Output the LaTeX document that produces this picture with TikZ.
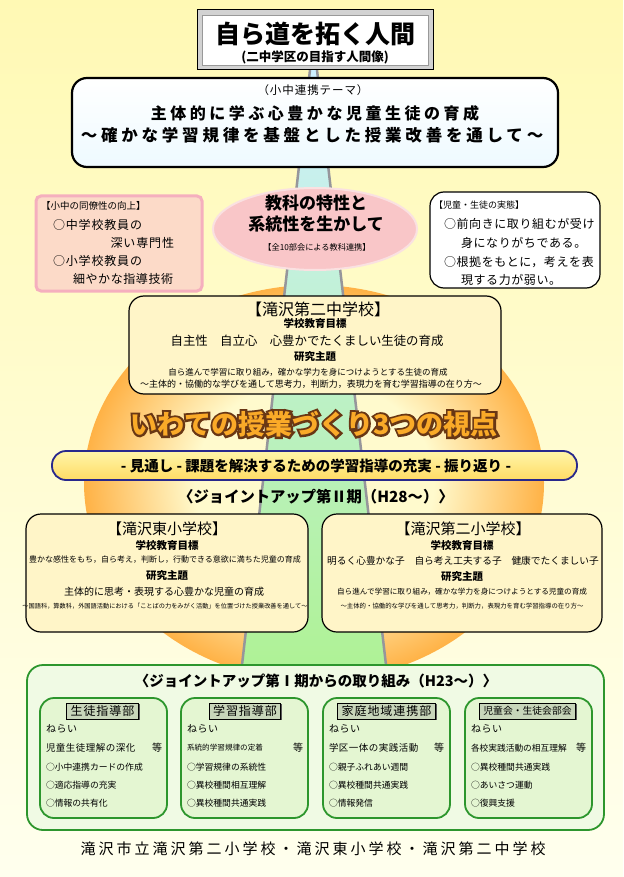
\documentclass[tikz,border=0pt]{standalone}
\usepackage{fontspec}
\usepackage{graphicx}
\usetikzlibrary{shapes.geometric,shadows}
\newfontfamily\jp{Noto Sans CJK JP}
\newcommand{\fsz}[1]{\fontsize{#1}{#1}\selectfont}
\newcommand{\trk}[1]{\addfontfeature{LetterSpace=#1}}

\definecolor{bgtop}{RGB}{255,249,180}
\definecolor{bgbot}{RGB}{255,255,238}
\definecolor{roadtop}{RGB}{205,240,255}
\definecolor{roadmid}{RGB}{205,245,225}
\definecolor{roadbot}{RGB}{175,242,150}
\definecolor{roadedge}{RGB}{150,150,155}
\definecolor{sunin}{RGB}{255,250,205}
\definecolor{sunout}{RGB}{255,178,70}
\definecolor{pinkfill}{RGB}{252,218,200}
\definecolor{pinkline}{RGB}{245,175,190}
\definecolor{ellfill}{RGB}{249,198,200}
\definecolor{ellline}{RGB}{250,225,225}
\definecolor{cream}{RGB}{255,245,200}
\definecolor{barblue}{RGB}{40,40,140}
\definecolor{baryeltop}{RGB}{255,245,170}
\definecolor{baryelbot}{RGB}{255,220,100}
\definecolor{grline}{RGB}{45,150,45}
\definecolor{grfill}{RGB}{240,250,228}
\definecolor{grinner}{RGB}{228,246,210}
\definecolor{tagfill}{RGB}{200,214,186}
\definecolor{popor}{RGB}{250,170,40}
\definecolor{popbr}{RGB}{105,55,20}
\definecolor{themefill}{RGB}{238,250,255}

\pgfdeclareradialshading{sunglow}{\pgfpoint{0bp}{0bp}}{color(0bp)=(sunin); color(13bp)=(sunin); color(25bp)=(sunout); color(50bp)=(sunout)}

\tikzset{
  txt/.style={inner sep=0pt, outer sep=0pt},
  board/.style={draw=black, line width=1.2pt, rounded corners=15pt, fill=cream, inner sep=0pt},
  roadline/.style={draw=roadedge, line width=2.5pt},
  unitbox/.style={draw=grline, line width=1.8pt, rounded corners=14pt, fill=grinner,
    minimum width=127pt, minimum height=120pt, inner sep=0pt},
  tagbox/.style={draw=black, line width=1pt, fill=tagfill, inner xsep=4pt, inner ysep=0pt,
    minimum height=16pt, drop shadow={shadow xshift=1.3pt, shadow yshift=-1.3pt, opacity=1, fill=black!65}},
}
\newcommand{\poptext}{いわての授業づくり3つの視点}

\begin{document}
\begin{tikzpicture}[x=1pt,y=-1pt]
    \useasboundingbox (0,0) rectangle (623,877);
    % Draw the background
    \shade[top color=bgtop, bottom color=bgbot] (0,0) rectangle (623,877);

    % Draw the sun behind the boards
    \shade[shading=sunglow] (314,483) ellipse [x radius=230pt, y radius=198pt];

    % Draw the road
    \coordinate (roadTL) at (310,70);
    \coordinate (roadTR) at (317,70);
    \coordinate (roadBL) at (242,665);
    \coordinate (roadBR) at (386,665);
    \shade[top color=roadtop, middle color=roadmid, bottom color=roadbot]
        (roadTL) -- (roadTR) -- (roadBR) -- (roadBL) -- cycle;
    \draw [roadline] (roadTL) -- (roadBL);
    \draw [roadline] (roadTR) -- (roadBR);

    % Title board
    \node [draw=black, line width=1pt, fill=gray!35, minimum width=236pt, minimum height=60pt,
        inner sep=0pt] (title) at (315,40) {};
    \node [draw=gray!80, line width=0.8pt, fill=white, minimum width=226pt, minimum height=50pt,
        inner sep=0pt] (titlein) at (title.center) {};
    \node [txt, font={\jp\fsz{25}\bfseries}] (titlemain) at (315,34) {自ら道を拓く人間};
    \node [txt, font={\jp\fsz{12.5}\bfseries}] (titlesub) at (315,57) {(二中学区の目指す人間像)};

    % Theme board
    \node [draw=black, line width=2.2pt, rounded corners=15pt, top color=white, bottom color=themefill,
        minimum width=486pt, minimum height=89pt, inner sep=0pt] (theme) at (315,122.5) {};
    \node [txt, font={\jp\fsz{11.5}\trk{8}}] (themelbl) at (313,90) {（小中連携テーマ）};
    \node [txt, font={\jp\fsz{16}\bfseries\trk{22}}] (themea) at (315,113) {主体的に学ぶ心豊かな児童生徒の育成};
    \node [txt, font={\jp\fsz{16.5}\bfseries\trk{23}}] (themeb) at (312,135) {～確かな学習規律を基盤とした授業改善を通して～};

    % Left note: colleagues
    \node [draw=pinkline, line width=3pt, rounded corners=5pt, fill=pinkfill,
        minimum width=166pt, minimum height=95pt, inner sep=0pt] (colleague) at (119,243.5) {};
    \node [txt, anchor=west, font={\jp\fsz{9.5}}] (colla) at (41,206) {【小中の同僚性の向上】};
    \node [txt, anchor=west, font={\jp\fsz{12}\trk{7}}] (collb) at (53,225) {○中学校教員の};
    \node [txt, anchor=east, font={\jp\fsz{12}\trk{7}}] (collc) at (174,243) {深い専門性};
    \node [txt, anchor=west, font={\jp\fsz{12}\trk{7}}] (colld) at (53,261) {○小学校教員の};
    \node [txt, anchor=west, font={\jp\fsz{12}\trk{5}}] (colle) at (73,279) {細やかな指導技術};

    % Centre ellipse: subjects
    \node [ellipse, draw=ellline, line width=2pt, fill=ellfill, minimum width=204pt,
        minimum height=82pt, inner sep=0pt] (subject) at (315,229) {};
    \node [txt, font={\jp\fsz{17}\bfseries}] (subja) at (316,203) {教科の特性と};
    \node [txt, font={\jp\fsz{17}\bfseries}] (subjb) at (316,224) {系統性を生かして};
    \node [txt, font={\jp\fsz{8.2}}] (subjc) at (317,247) {【全10部会による教科連携】};

    % Right note: pupils
    \node [draw=black, line width=1.2pt, rounded corners=14pt, fill=white,
        minimum width=170pt, minimum height=96pt, inner sep=0pt] (pupil) at (515,240) {};
    \node [txt, anchor=west, font={\jp\fsz{9}}] (pupa) at (434,205) {【児童・生徒の実態】};
    \node [txt, anchor=west, font={\jp\fsz{12}\trk{5}}] (pupb) at (444,224) {○前向きに取り組むが受け};
    \node [txt, anchor=west, font={\jp\fsz{12}\trk{5}}] (pupc) at (461,243) {身になりがちである。};
    \node [txt, anchor=west, font={\jp\fsz{12}\trk{5}}] (pupd) at (444,262) {○根拠をもとに，考えを表};
    \node [txt, anchor=west, font={\jp\fsz{12}\trk{5}}] (pupe) at (461,280) {現する力が弱い。};

    % Junior high school board
    \node [board, minimum width=372pt, minimum height=98pt] (jhs) at (315,345) {};
    \node [txt, font={\jp\fsz{16}}] (jhsname) at (318,309) {【滝沢第二中学校】};
    \node [txt, font={\jp\fsz{10.5}\bfseries}] (jhsgoal) at (315,324) {学校教育目標};
    \node [txt, font={\jp\fsz{12.4}}] (jhsgoaltx) at (307,341) {自主性　自立心　心豊かでたくましい生徒の育成};
    \node [txt, font={\jp\fsz{10.5}\bfseries}] (jhstheme) at (315,357) {研究主題};
    \node [txt, font={\jp\fsz{8.5}}] (jhsthemea) at (308,372) {自ら進んで学習に取り組み，確かな学力を身につけようとする生徒の育成};
    \node [txt, font={\jp\fsz{9}}] (jhsthemeb) at (311,384) {～主体的・協働的な学びを通して思考力，判断力，表現力を育む学習指導の在り方～};

    % Three viewpoints
    \node [txt, font={\jp\fsz{27}\bfseries}] (pop) at (314,424)
        {{\color{popbr}\rlap{\addfontfeature{FakeBold=16}\poptext}}\textcolor{popor}{\poptext}};

    \node [draw=barblue, line width=1.8pt, rounded corners=14pt, top color=baryeltop, bottom color=baryelbot,
        minimum width=525pt, minimum height=29pt, inner sep=0pt] (view) at (314.5,465.5) {};
    \node [txt, font={\jp\fsz{14.5}\bfseries}] (viewtx) at (316,466) {- 見通し - 課題を解決するための学習指導の充実 - 振り返り -};
    \node [txt, font={\jp\fsz{15.3}\bfseries}] (phase2) at (316,497) {〈ジョイントアップ第Ⅱ期（H28～）〉};

    % Elementary school boards
    \node [board, minimum width=282pt, minimum height=118pt] (east) at (167,573) {};
    \node [txt, font={\jp\fsz{15}}] (eastname) at (167,529) {【滝沢東小学校】};
    \node [txt, font={\jp\fsz{10.5}\bfseries}] (eastgoal) at (167,545) {学校教育目標};
    \node [txt, font={\jp\fsz{8}}] (eastgoaltx) at (165,560) {豊かな感性をもち，自ら考え，判断し，行動できる意欲に満ちた児童の育成};
    \node [txt, font={\jp\fsz{10.5}\bfseries}] (easttheme) at (167,576) {研究主題};
    \node [txt, font={\jp\fsz{10}}] (eastthemea) at (164,592) {主体的に思考・表現する心豊かな児童の育成};
    \node [txt, font={\jp\fsz{6.2}}] (eastthemeb) at (165,606) {～国語科，算数科，外国語活動における「ことばの力をみがく活動」を位置づけた授業改善を通して～};

    \node [board, minimum width=280pt, minimum height=118pt] (second) at (462,573) {};
    \node [txt, font={\jp\fsz{15}}] (secname) at (463,529) {【滝沢第二小学校】};
    \node [txt, font={\jp\fsz{10.5}\bfseries}] (secgoal) at (462,545) {学校教育目標};
    \node [txt, font={\jp\fsz{9.7}}] (secgoaltx) at (463,561) {明るく心豊かな子　自ら考え工夫する子　健康でたくましい子};
    \node [txt, font={\jp\fsz{10.5}\bfseries}] (sectheme) at (462,577) {研究主題};
    \node [txt, font={\jp\fsz{7.6}}] (secthemea) at (462,592) {自ら進んで学習に取り組み，確かな学力を身につけようとする児童の育成};
    \node [txt, font={\jp\fsz{6.4}}] (secthemeb) at (462,606) {～主体的・協働的な学びを通して思考力，判断力，表現力を育む学習指導の在り方～};

    % Phase one: the four sections
    \node [draw=grline, line width=1.8pt, rounded corners=16pt, fill=grfill,
        minimum width=577pt, minimum height=165pt, inner sep=0pt] (phase1) at (315.5,747.5) {};
    \node [txt, font={\jp\fsz{14.5}\bfseries}] (phase1tx) at (316,681) {〈ジョイントアップ第Ⅰ期からの取り組み（H23～）〉};

    \node [unitbox] (guide) at (103.5,758) {};
    \node [tagbox, font={\jp\fsz{12}\trk{8}}] (guidetag) at (102.5,711) {生徒指導部};
    \node [txt, anchor=west, font={\jp\fsz{10}\trk{5}}] (guidea) at (46,729) {ねらい};
    \node [txt, anchor=west, font={\jp\fsz{9.5}\trk{5}}] (guideb) at (46,748) {児童生徒理解の深化};
    \node [txt, anchor=east, font={\jp\fsz{10}}] (guidee) at (162,748) {等};
    \node [txt, anchor=west, font={\jp\fsz{8.8}}] (guidec) at (46,767) {○小中連携カードの作成};
    \node [txt, anchor=west, font={\jp\fsz{8.8}}] (guided) at (46,785) {○適応指導の充実};
    \node [txt, anchor=west, font={\jp\fsz{8.8}}] (guidef) at (46,803) {○情報の共有化};

    \node [unitbox] (study) at (244.5,758) {};
    \node [tagbox, font={\jp\fsz{12}\trk{8}}] (studytag) at (245,711) {学習指導部};
    \node [txt, anchor=west, font={\jp\fsz{10}\trk{5}}] (studya) at (187,729) {ねらい};
    \node [txt, anchor=west, font={\jp\fsz{7.6}}] (studyb) at (187,748) {系統的学習規律の定着};
    \node [txt, anchor=east, font={\jp\fsz{10}}] (studye) at (303,748) {等};
    \node [txt, anchor=west, font={\jp\fsz{8.8}}] (studyc) at (187,767) {○学習規律の系統性};
    \node [txt, anchor=west, font={\jp\fsz{8.8}}] (studyd) at (187,785) {○異校種間相互理解};
    \node [txt, anchor=west, font={\jp\fsz{8.8}}] (studyf) at (187,803) {○異校種間共通実践};

    \node [unitbox] (home) at (386.5,758) {};
    \node [tagbox, font={\jp\fsz{12}\trk{8}}] (hometag) at (386.5,711) {家庭地域連携部};
    \node [txt, anchor=west, font={\jp\fsz{10}\trk{5}}] (homea) at (329,729) {ねらい};
    \node [txt, anchor=west, font={\jp\fsz{9.5}\trk{5}}] (homeb) at (329,748) {学区一体の実践活動};
    \node [txt, anchor=east, font={\jp\fsz{10}}] (homee) at (444,748) {等};
    \node [txt, anchor=west, font={\jp\fsz{8.8}}] (homec) at (329,767) {○親子ふれあい週間};
    \node [txt, anchor=west, font={\jp\fsz{8.8}}] (homed) at (329,785) {○異校種間共通実践};
    \node [txt, anchor=west, font={\jp\fsz{8.8}}] (homef) at (329,803) {○情報発信};

    \node [unitbox] (council) at (528.5,758) {};
    \node [tagbox, font={\jp\fsz{9.8}}] (counciltag) at (527.5,711) {児童会・生徒会部会};
    \node [txt, anchor=west, font={\jp\fsz{10}\trk{5}}] (councila) at (471,729) {ねらい};
    \node [txt, anchor=west, font={\jp\fsz{8.7}}] (councilb) at (471,748) {各校実践活動の相互理解};
    \node [txt, anchor=east, font={\jp\fsz{10}}] (councile) at (586,748) {等};
    \node [txt, anchor=west, font={\jp\fsz{8.8}}] (councilc) at (471,767) {○異校種間共通実践};
    \node [txt, anchor=west, font={\jp\fsz{8.8}}] (councild) at (471,785) {○あいさつ運動};
    \node [txt, anchor=west, font={\jp\fsz{8.8}}] (councilf) at (471,803) {○復興支援};

    % Footer
    \node [txt, font={\jp\fsz{15}\trk{20}}] (footer) at (313,849) {滝沢市立滝沢第二小学校・滝沢東小学校・滝沢第二中学校};
\end{tikzpicture}
\end{document}
